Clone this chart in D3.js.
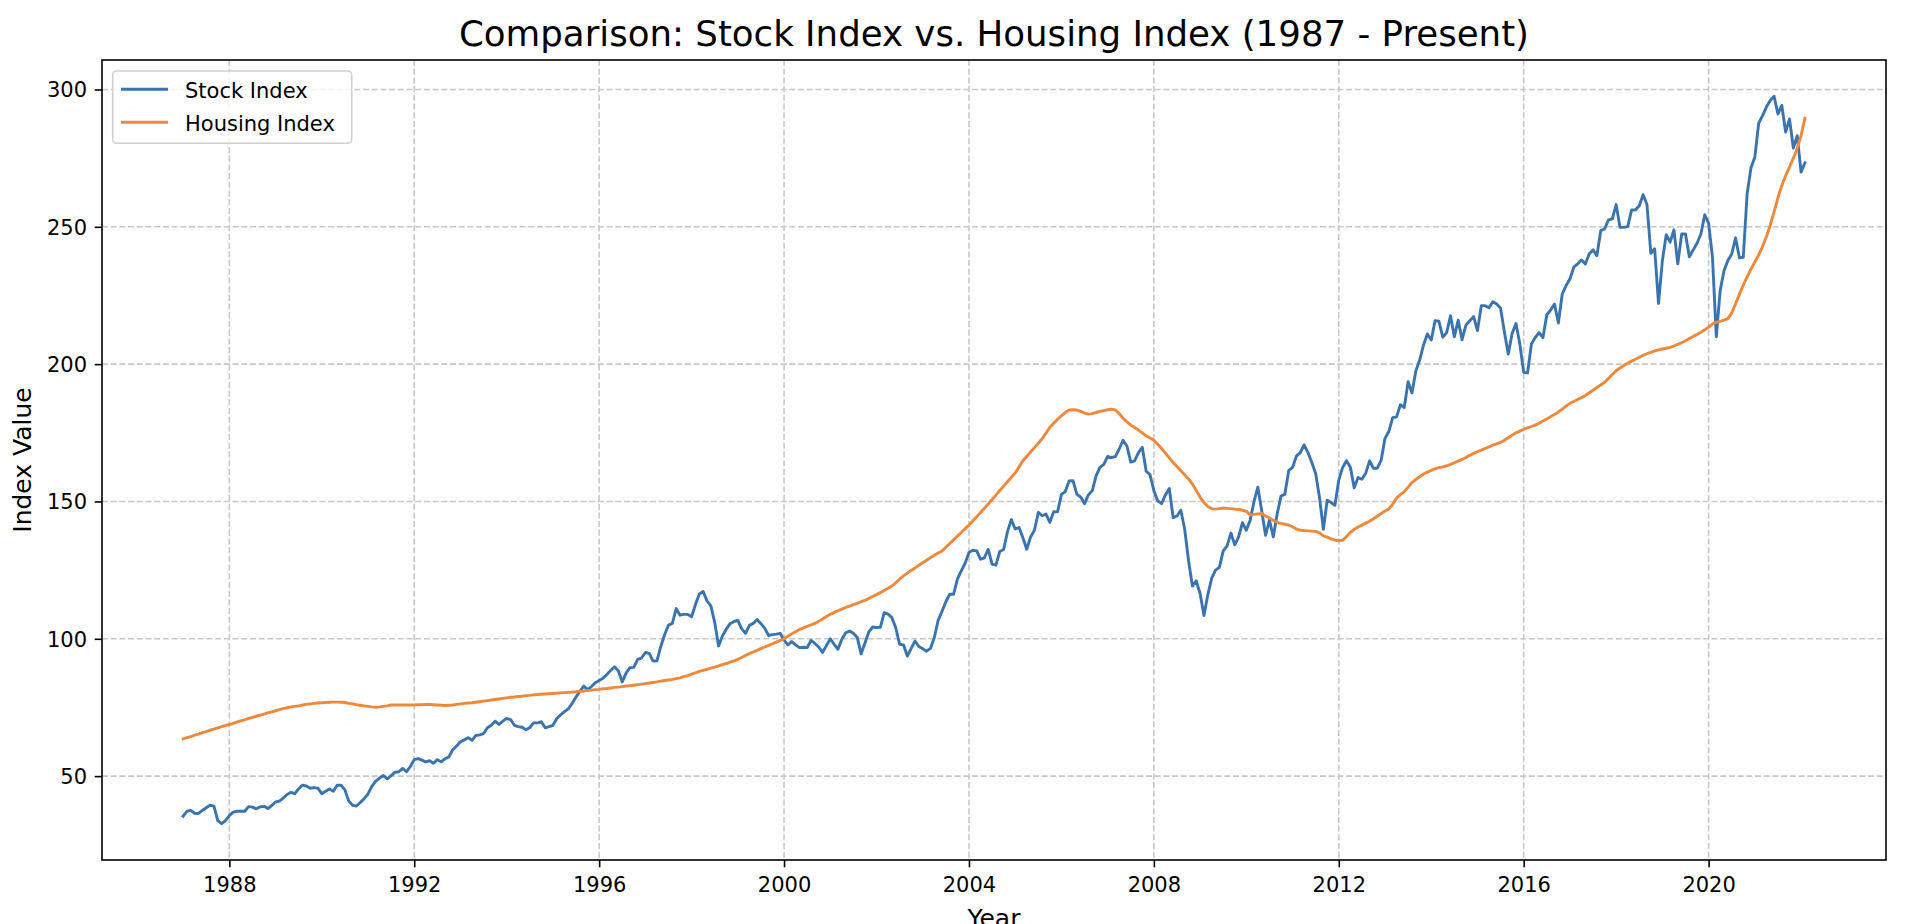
<!DOCTYPE html>
<html>
<head>
<meta charset="utf-8">
<script src="https://cdn.jsdelivr.net/npm/d3@7"></script>
<style>
  html, body { margin: 0; padding: 0; background: #ffffff; }
  svg { display: block; }
  text { font-family: "DejaVu Sans", sans-serif; fill: #000; }
</style>
</head>
<body>
<svg id="chart" width="1930" height="924"></svg>
<script>
// ---- Data (monthly, starting January 1987) ----
const startYear = 1987;
const startMonth = 0; // January
const seriesNames = ["Stock Index", "Housing Index"];
const titleText = "Comparison: Stock Index vs. Housing Index (1987 - Present)";
const xTickYears = [1988, 1992, 1996, 2000, 2004, 2008, 2012, 2016, 2020];
const yTickValues = [50, 100, 150, 200, 250, 300];

const stockValues = [
  35.4, 37.2, 37.5, 36.5, 36.4, 37.5, 38.5, 39.4, 39.1, 33.8, 32.7, 33.8,   // 1987
  35.6, 36.9, 37.2, 37.2, 37.2, 38.9, 38.7, 38.1, 38.8, 39.0, 38.2, 39.3,   // 1988
  40.6, 40.9, 42.0, 43.3, 44.1, 43.6, 45.4, 46.7, 46.4, 45.6, 45.8, 45.6,   // 1989
  43.6, 44.5, 45.3, 44.5, 46.7, 46.7, 45.0, 40.9, 39.4, 39.1, 40.4, 41.8,   // 1990
  43.5, 46.3, 48.2, 49.3, 50.2, 49.0, 50.2, 51.4, 51.6, 52.8, 51.6, 53.5,   // 1991
  56.0, 56.4, 55.8, 55.2, 55.6, 54.7, 56.0, 55.2, 56.3, 57.0, 59.6, 61.0,   // 1992
  62.5, 63.2, 64.0, 63.0, 64.8, 65.0, 65.5, 67.6, 68.5, 70.0, 68.8, 70.0,   // 1993
  71.0, 70.6, 68.5, 68.0, 67.8, 66.9, 67.7, 69.4, 69.4, 69.8, 67.6, 68.0,   // 1994
  68.5, 71.0, 72.3, 73.5, 74.5, 76.5, 78.8, 80.9, 82.8, 81.5, 82.6, 84.0,   // 1995
  84.8, 85.6, 87.0, 88.5, 89.8, 88.3, 84.3, 87.5, 89.5, 89.6, 92.5, 93.0,   // 1996
  95.0, 94.7, 91.9, 92.0, 97.2, 101.5, 105.0, 105.6, 111.0, 108.6, 108.9, 108.9, // 1997
  108.0, 112.5, 116.3, 117.2, 113.8, 112.0, 106.0, 97.4, 101.0, 103.5, 105.5, 106.3, // 1998
  106.7, 103.6, 102.0, 104.9, 105.6, 107.0, 105.5, 103.8, 101.2, 101.5, 101.7, 102.0, // 1999
  99.5, 97.8, 99.0, 97.8, 96.8, 96.9, 96.8, 99.4, 98.3, 97.0, 95.0, 97.5,   // 2000
  100.0, 98.0, 96.2, 99.8, 102.2, 102.8, 102.0, 100.5, 94.5, 98.5, 102.5, 104.3, // 2001
  104.1, 104.2, 109.5, 109.0, 107.7, 104.0, 98.0, 97.8, 93.7, 96.5, 99.2, 97.2, // 2002
  96.4, 95.5, 96.5, 100.4, 106.7, 110.0, 113.5, 116.2, 116.2, 121.7, 124.7, 127.5, // 2003
  131.4, 132.2, 132.0, 129.0, 129.5, 132.6, 127.2, 126.8, 131.8, 132.5, 139.0, 143.4, // 2004
  140.0, 140.5, 136.8, 132.6, 137.1, 139.5, 146.0, 144.8, 145.4, 142.4, 146.3, 146.2, // 2005
  152.6, 153.6, 157.5, 157.6, 152.7, 151.6, 149.2, 152.4, 153.9, 159.3, 162.4, 163.5, // 2006
  166.4, 166.0, 166.3, 169.1, 172.3, 170.2, 164.3, 164.8, 167.8, 169.7, 161.0, 159.8, // 2007
  153.9, 150.2, 149.2, 152.4, 154.7, 144.1, 144.7, 146.8, 139.9, 128.5, 119.2, 121.1, // 2008
  116.5, 108.5, 116.0, 122.0, 125.0, 126.0, 132.0, 133.8, 138.5, 134.2, 137.1, 142.3, // 2009
  139.5, 143.2, 150.0, 155.2, 146.5, 137.7, 143.2, 137.1, 145.4, 152.0, 152.6, 161.2, // 2010
  162.4, 166.5, 167.8, 170.6, 167.8, 164.2, 160.2, 151.4, 139.9, 150.5, 149.6, 148.6, // 2011
  157.8, 162.4, 164.8, 162.5, 155.0, 158.7, 158.1, 160.3, 164.8, 162.1, 162.1, 165.0, // 2012
  173.0, 175.5, 180.5, 180.8, 185.2, 184.2, 193.6, 189.5, 197.5, 201.5, 207.0, 211.0, // 2013
  208.8, 215.8, 215.6, 209.8, 211.5, 217.6, 210.0, 216.0, 208.9, 214.2, 215.8, 217.3, // 2014
  212.2, 221.3, 221.3, 220.5, 222.7, 221.9, 220.4, 211.6, 203.7, 211.2, 214.8, 207.3, // 2015
  197.0, 196.8, 207.3, 209.7, 211.5, 209.7, 218.0, 219.7, 221.9, 215.0, 225.5, 228.6, // 2016
  231.0, 235.3, 236.5, 237.9, 236.5, 240.1, 241.6, 239.5, 248.6, 249.2, 252.5, 252.9, // 2017
  258.1, 249.8, 249.8, 250.1, 256.1, 256.1, 257.7, 261.7, 258.1, 240.4, 242.0, 222.1, // 2018
  237.7, 247.1, 244.4, 248.9, 236.5, 247.4, 247.4, 239.1, 241.6, 244.0, 247.4, 254.4, // 2019
  251.3, 239.0, 210.0, 226.8, 234.0, 237.7, 240.1, 246.0, 238.7, 238.9, 262.0, 271.5, // 2020
  275.3, 287.7, 290.5, 293.6, 296.0, 297.5, 291.1, 294.2, 284.5, 289.3, 278.7, 283.2, // 2021
  269.9, 273.3                                                                        // 2022
];

const housingValues = [
  63.6, 64.0, 64.4, 64.9, 65.3, 65.8, 66.2, 66.7, 67.1, 67.6, 68.0, 68.4,   // 1987
  68.8, 69.2, 69.7, 70.1, 70.5, 71.0, 71.4, 71.8, 72.2, 72.6, 73.0, 73.4,   // 1988
  73.8, 74.2, 74.6, 74.9, 75.2, 75.4, 75.6, 75.9, 76.1, 76.3, 76.5, 76.6,   // 1989
  76.7, 76.8, 76.9, 76.95, 76.95, 76.9, 76.8, 76.5, 76.3, 76.0, 75.8, 75.6, // 1990
  75.4, 75.2, 75.1, 75.2, 75.4, 75.6, 75.9, 75.9, 75.9, 75.9, 75.9, 75.9,   // 1991
  75.9, 76.0, 76.0, 76.1, 76.1, 76.0, 75.9, 75.8, 75.7, 75.8, 75.9, 76.1,   // 1992
  76.3, 76.5, 76.6, 76.7, 76.9, 77.1, 77.3, 77.5, 77.7, 77.9, 78.1, 78.3,   // 1993
  78.5, 78.7, 78.8, 79.0, 79.1, 79.3, 79.4, 79.6, 79.7, 79.8, 79.9, 80.0,   // 1994
  80.1, 80.2, 80.3, 80.4, 80.5, 80.6, 80.7, 80.9, 81.0, 81.2, 81.3, 81.5,   // 1995
  81.6, 81.8, 81.9, 82.1, 82.3, 82.4, 82.6, 82.8, 82.9, 83.1, 83.3, 83.5,   // 1996
  83.7, 83.9, 84.1, 84.3, 84.6, 84.8, 85.0, 85.2, 85.5, 85.8, 86.2, 86.6,   // 1997
  87.1, 87.6, 88.1, 88.5, 88.9, 89.3, 89.7, 90.1, 90.6, 91.0, 91.5, 92.0,   // 1998
  92.5, 93.2, 93.9, 94.6, 95.2, 95.8, 96.4, 97.0, 97.6, 98.2, 98.8, 99.4,   // 1999
  100.0, 100.9, 101.8, 102.6, 103.4, 104.0, 104.5, 105.1, 105.6, 106.4, 107.2, 108.1, // 2000
  108.9, 109.6, 110.2, 110.8, 111.4, 111.9, 112.4, 112.9, 113.5, 114.0, 114.7, 115.4, // 2001
  116.1, 116.8, 117.6, 118.4, 119.2, 120.4, 121.7, 122.9, 123.9, 124.9, 125.8, 126.8, // 2002
  127.7, 128.6, 129.5, 130.4, 131.2, 132.0, 133.3, 134.7, 136.0, 137.4, 138.7, 140.1, // 2003
  141.4, 142.9, 144.4, 146.0, 147.5, 149.1, 150.7, 152.3, 154.0, 155.6, 157.2, 158.8, // 2004
  160.4, 162.6, 164.8, 166.4, 168.0, 169.6, 171.2, 172.9, 174.9, 177.0, 178.5, 179.9, // 2005
  181.2, 182.4, 183.3, 183.4, 183.3, 182.8, 182.2, 181.8, 182.0, 182.4, 182.8, 183.1, // 2006
  183.4, 183.6, 183.3, 182.0, 180.3, 179.0, 177.8, 176.9, 176.0, 175.0, 173.9, 173.1, // 2007
  172.3, 170.8, 169.3, 167.6, 165.9, 164.2, 162.7, 161.2, 159.7, 158.2, 156.4, 154.0, // 2008
  151.6, 149.6, 148.2, 147.4, 147.2, 147.4, 147.6, 147.5, 147.4, 147.2, 147.1, 146.8, // 2009
  146.4, 145.1, 145.3, 145.5, 145.6, 144.7, 144.0, 143.2, 142.4, 142.0, 141.7, 141.4, // 2010
  140.8, 140.0, 139.5, 139.4, 139.3, 139.2, 139.1, 138.6, 137.5, 137.0, 136.4, 135.9, // 2011
  135.8, 135.9, 137.2, 138.7, 139.8, 140.7, 141.4, 142.1, 142.8, 143.7, 144.6, 145.6, // 2012
  146.5, 147.3, 149.0, 151.2, 152.5, 153.6, 155.2, 156.9, 158.0, 159.0, 160.0, 160.7, // 2013
  161.3, 161.9, 162.3, 162.6, 163.0, 163.5, 164.1, 164.7, 165.3, 166.0, 166.8, 167.5, // 2014
  168.1, 168.7, 169.3, 169.9, 170.5, 171.0, 171.5, 172.3, 173.2, 174.1, 175.0, 175.6, // 2015
  176.3, 176.8, 177.3, 177.8, 178.5, 179.3, 180.0, 180.9, 181.7, 182.6, 183.6, 184.7, // 2016
  185.7, 186.4, 187.1, 187.8, 188.6, 189.6, 190.5, 191.5, 192.4, 193.4, 194.8, 196.2, // 2017
  197.6, 198.6, 199.5, 200.3, 201.1, 201.8, 202.5, 203.2, 203.8, 204.3, 204.8, 205.2, // 2018
  205.5, 205.8, 206.1, 206.6, 207.2, 207.8, 208.5, 209.3, 210.1, 210.8, 211.6, 212.5, // 2019
  213.5, 214.6, 215.3, 215.6, 216.0, 216.6, 218.6, 222.0, 225.4, 228.8, 231.8, 234.6, // 2020
  237.2, 239.8, 242.8, 246.4, 250.6, 255.4, 260.6, 265.0, 268.6, 271.8, 275.0, 278.6, // 2021
  283.2, 289.5                                                                        // 2022
];

const seriesColors = ["#3a74b0", "#f0883a"];

// ---- Layout ----
const W = 1930, H = 924;
const plot = { left: 102, right: 1886, top: 60, bottom: 860 };

const svg = d3.select("#chart");

const n = Math.min(stockValues.length, housingValues.length);
const t = d3.range(n).map(i => startYear + (startMonth + i) / 12);

const tMin = t[0], tMax = t[n - 1];
const xPad = (tMax - tMin) * 0.05;
const x = d3.scaleLinear().domain([tMin - xPad, tMax + xPad]).range([plot.left, plot.right]);

const allVals = stockValues.slice(0, n).concat(housingValues.slice(0, n));
const [vMin, vMax] = d3.extent(allVals);
const yPad = (vMax - vMin) * 0.05;
const y = d3.scaleLinear().domain([vMin - yPad, vMax + yPad]).range([plot.bottom, plot.top]);

// ---- Grid ----
const grid = svg.append("g").attr("class", "grid");
grid.selectAll("line.gx").data(xTickYears).enter().append("line")
  .attr("x1", d => x(d)).attr("x2", d => x(d))
  .attr("y1", plot.top).attr("y2", plot.bottom)
  .attr("stroke", "#c8c8c8").attr("stroke-width", 1.6).attr("stroke-dasharray", "6,2.7");
grid.selectAll("line.gy").data(yTickValues).enter().append("line")
  .attr("x1", plot.left).attr("x2", plot.right)
  .attr("y1", d => y(d)).attr("y2", d => y(d))
  .attr("stroke", "#c8c8c8").attr("stroke-width", 1.6).attr("stroke-dasharray", "6,2.7");

// ---- Lines ----
const series = [stockValues, housingValues];
const lineGen = d3.line().x((d, i) => x(t[i])).y(d => y(d));
svg.append("defs").append("clipPath").attr("id", "clip")
  .append("rect").attr("x", plot.left).attr("y", plot.top)
  .attr("width", plot.right - plot.left).attr("height", plot.bottom - plot.top);
const linesG = svg.append("g").attr("clip-path", "url(#clip)");
series.forEach((vals, k) => {
  linesG.append("path")
    .datum(vals.slice(0, n))
    .attr("d", lineGen)
    .attr("fill", "none")
    .attr("stroke", seriesColors[k])
    .attr("stroke-width", 2.9)
    .attr("stroke-linejoin", "round")
    .attr("stroke-linecap", "square");
});

// ---- Axes ----
const xAxis = d3.axisBottom(x).tickValues(xTickYears).tickFormat(d3.format("d"))
  .tickSize(7.3).tickPadding(6);
const yAxis = d3.axisLeft(y).tickValues(yTickValues).tickFormat(d3.format("d"))
  .tickSize(7.3).tickPadding(6);

const gx = svg.append("g").attr("transform", `translate(0,${plot.bottom})`).call(xAxis);
const gy = svg.append("g").attr("transform", `translate(${plot.left},0)`).call(yAxis);
[gx, gy].forEach(g => {
  g.select(".domain").remove();
  g.selectAll(".tick line").attr("stroke", "#000").attr("stroke-width", 1.6);
  g.selectAll(".tick text").attr("font-size", 21).attr("fill", "#000")
    .style("font-family", "DejaVu Sans, sans-serif");
});
gx.selectAll(".tick text").attr("dy", null).attr("y", 32);
gy.selectAll(".tick text").attr("dy", "0.35em").attr("x", -15);

// Frame (spines)
svg.append("rect")
  .attr("x", plot.left).attr("y", plot.top)
  .attr("width", plot.right - plot.left).attr("height", plot.bottom - plot.top)
  .attr("fill", "none").attr("stroke", "#000").attr("stroke-width", 1.6);

// ---- Titles ----
svg.append("text")
  .attr("x", (plot.left + plot.right) / 2).attr("y", 46)
  .attr("text-anchor", "middle").attr("font-size", 35.6)
  .text(titleText);

svg.append("text")
  .attr("x", (plot.left + plot.right) / 2).attr("y", 926.5)
  .attr("text-anchor", "middle").attr("font-size", 25)
  .text("Year");

svg.append("text")
  .attr("transform", `translate(31,${(plot.top + plot.bottom) / 2}) rotate(-90)`)
  .attr("text-anchor", "middle").attr("font-size", 25)
  .text("Index Value");

// ---- Legend ----
const lg = svg.append("g");
lg.append("rect")
  .attr("x", 112.7).attr("y", 71).attr("width", 239).attr("height", 72.3)
  .attr("rx", 4).attr("ry", 4)
  .attr("fill", "#ffffff").attr("fill-opacity", 0.8)
  .attr("stroke", "#d0d0d0").attr("stroke-width", 1.6);
seriesNames.forEach((name, k) => {
  const cy = 89.3 + k * 33;
  lg.append("line")
    .attr("x1", 121).attr("x2", 168).attr("y1", cy).attr("y2", cy)
    .attr("stroke", seriesColors[k]).attr("stroke-width", 3.1);
  lg.append("text")
    .attr("x", 185).attr("y", cy + 8.3)
    .attr("font-size", 21)
    .text(name);
});
</script>
</body>
</html>
